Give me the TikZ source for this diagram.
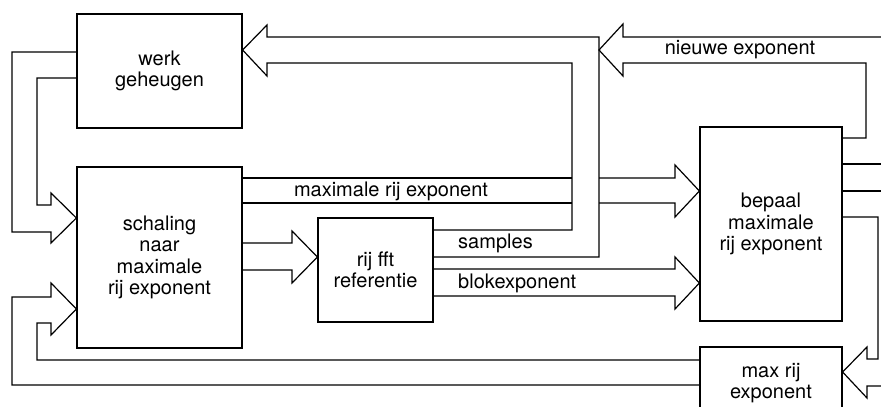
\documentclass[tikz,border=0pt]{standalone}
\usepackage{fontspec}
\setmainfont{TeX Gyre Heros}

\begin{document}
\begin{tikzpicture}[x=1pt, y=-1pt,
		box/.style={draw, line width=1.2pt, inner sep=0pt, align=center, font=\fontsize{20}{21.5}\selectfont},
		pipe/.style={line width=1.2pt, line join=miter},
		flowtext/.style={inner sep=0pt, font=\fontsize{20}{21.5}\selectfont}]
			\useasboundingbox (0,0) rectangle (881,407);
			\clip (0,0) rectangle (881,407);
			% blocks
			\node[box, minimum width=165pt, minimum height=114pt] (werk) at (159.5,71) {werk\\geheugen};
			\node[box, minimum width=165pt, minimum height=181pt] (schaling) at (159.5,257.5) {schaling\\naar\\maximale\\rij exponent};
			\node[box, minimum width=115pt, minimum height=104pt] (fft) at (375.5,270) {rij fft\\referentie};
			\node[box, minimum width=142pt, minimum height=194pt] (bepaal) at (771,224) {bepaal\\maximale\\rij exponent};
			\node[box, minimum width=142pt, minimum height=72pt] (maxrij) at (771,383) {max rij\\exponent};
			% werk geheugen to schaling
			\draw[pipe] (werk.west |- 0,52) -| (12,232) -- (51,232) -- (51,243) -- (schaling.west |- 0,218) -- (51,193) -- (51,205) -| (37,78) -- (werk.west |- 0,78);
			% samples back to werk geheugen
			\draw[pipe] (fft.east |- 0,257) -| (599,37) -- (267,37) -- (267,25) -- (werk.east |- 0,50) -- (267,76) -- (267,63) -| (572,230) -- (fft.east |- 0,230);
			% maximale rij exponent, broken where it passes under samples
			\draw[pipe] (schaling.east |- 0,178) -- (572,178) (schaling.east |- 0,203) -- (572,203);
			\draw[pipe] (599,178) -- (675,178) -- (675,165) -- (bepaal.west |- 0,191) -- (675,217) -- (675,203) -- (599,203);
			% schaling to rij fft
			\draw[pipe] (schaling.east |- 0,243) -- (292,243) -- (292,231) -- (fft.west |- 0,257) -- (292,283) -- (292,270) -- (schaling.east |- 0,270);
			% blokexponent
			\draw[pipe] (fft.east |- 0,269) -- (675,269) -- (675,257) -- (bepaal.west |- 0,283) -- (675,309) -- (675,296) -- (fft.east |- 0,296);
			% nieuwe exponent
			\coordinate (join) at (599,50);
			\draw[pipe] (bepaal.east |- 0,138) -| (866,63) -- (623,63) -- (623,76) -- (join) -- (623,24) -- (623,37) -- (890,37);
			% outputs of bepaal
			\draw[pipe] (bepaal.east |- 0,164) -- (890,164) (bepaal.east |- 0,191) -- (890,191);
			% bepaal to max rij
			\draw[pipe] (bepaal.east |- 0,217) -| (878,359) -- (867,359) -- (867,347) -- (maxrij.east |- 0,372) -- (867,398) -- (867,386) -- (890,386);
			% max rij back to schaling
			\draw[pipe] (maxrij.west |- 0,360) -| (37,323) -- (51,323) -- (51,335) -- (schaling.west |- 0,309) -- (51,283) -- (51,297) -| (12,385) -- (maxrij.west |- 0,385);
			% labels
			\node[flowtext] (maxtxt) at (391,191) {maximale rij exponent};
			\node[flowtext, anchor=west] (samptxt) at (458,243) {samples};
			\node[flowtext, anchor=west] (bloktxt) at (458,283) {blokexponent};
			\node[flowtext] (nieuwtxt) at (740,50) {nieuwe exponent};
		\end{tikzpicture}
\end{document}
